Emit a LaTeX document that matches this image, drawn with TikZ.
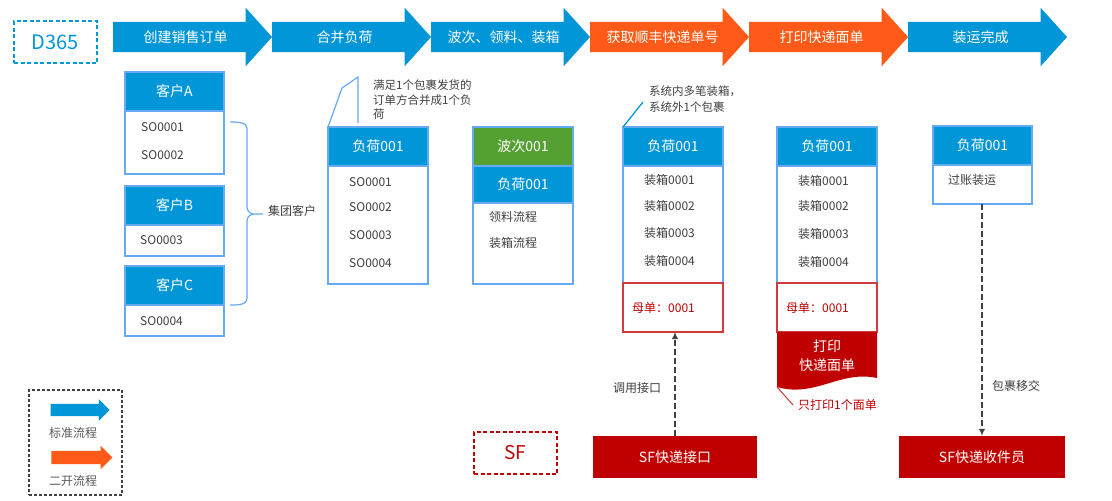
\documentclass[tikz,border=0pt]{standalone}
\usepackage{fontspec}
\setmainfont{Noto Sans CJK SC}
\usepackage{xcolor}
\usetikzlibrary{arrows.meta,positioning,shapes.arrows}
\definecolor{flowblue}{HTML}{0096D8}
\definecolor{boxline}{HTML}{66AAF5}
\definecolor{wavegreen}{HTML}{55A032}
\definecolor{devorange}{HTML}{FF5A17}
\definecolor{sfred}{HTML}{C00000}
\definecolor{redline}{HTML}{D0393E}
\definecolor{itemgray}{HTML}{404040}
\definecolor{leggray}{HTML}{595959}

\begin{document}
\begin{tikzpicture}[
    x=1pt,y=-1pt,
    flow/.style={single arrow, single arrow head extend=14pt, single arrow tip angle=96,
                 minimum height=159pt, text height=12pt, text depth=2pt, inner ysep=8pt,
                 inner xsep=0pt, outer sep=0pt, text=white, anchor=tail,
                 font=\fontsize{14}{16}\selectfont},
    legarrow/.style={single arrow, single arrow head extend=4.5pt, single arrow tip angle=90,
                     text height=0pt, text depth=0pt, inner ysep=6pt, inner xsep=0pt},
    hdr/.style={draw=boxline, line width=1.2pt, fill=flowblue, text=white, anchor=north west,
                minimum width=100pt, minimum height=39pt, inner sep=0pt, outer sep=0pt,
                font=\fontsize{14}{16}\selectfont},
    bodybox/.style={draw=boxline, line width=1.2pt, fill=white, minimum width=100pt,
                    inner sep=0pt, outer sep=0pt},
    redbox/.style={draw=redline, line width=1.2pt, fill=white, anchor=north west,
                   minimum width=100pt, minimum height=49pt, inner sep=0pt, outer sep=0pt},
    item/.style={anchor=west, inner sep=0pt, text=itemgray, font=\fontsize{12}{14}\selectfont},
    note/.style={anchor=north west, inner sep=0pt, align=left, text=itemgray,
                 font=\fontsize{11.5}{14.5}\selectfont},
    sfbox/.style={fill=sfred, text=white, minimum height=42pt, inner sep=0pt,
                  font=\fontsize{14}{16}\selectfont},
    tag/.style={dashed, dash pattern=on 4pt off 2.5pt, line width=1.2pt, minimum width=83pt,
                minimum height=42pt, inner sep=0pt},
    callline/.style={draw=boxline, line width=1.2pt},
    dasharrow/.style={-{Latex[length=7pt,width=6.5pt]}, dashed, dash pattern=on 6pt off 3pt,
                      line width=2pt, draw=itemgray}
]
\useasboundingbox[fill=white] (0,0) rectangle (1112,501);

% Process arrows
\node[tag, draw=flowblue, text=flowblue, font=\fontsize{20}{22}\selectfont] (d365) at (55.5,42) {D365};
\node[flow, fill=flowblue] (s1) at (113,37) {创建销售订单};
\node[flow, fill=flowblue] (s2) at (s1.tip) {合并负荷};
\node[flow, fill=flowblue] (s3) at (s2.tip) {波次、领料、装箱};
\node[flow, fill=devorange] (s4) at (s3.tip) {获取顺丰快递单号};
\node[flow, fill=devorange] (s5) at (s4.tip) {打印快递面单};
\node[flow, fill=flowblue] (s6) at (s5.tip) {装运完成};

% Customers
\node[hdr, minimum width=99pt] (ka) at (125,72) {客户A};
\node[bodybox, minimum width=99pt, minimum height=63pt, below=0pt of ka] (kab) {};
\node[item] (ka1) at (141,127) {SO0001};
\node[item] (ka2) at (141,155) {SO0002};
\node[hdr, minimum width=99pt] (kb) at (125,186) {客户B};
\node[bodybox, minimum width=99pt, minimum height=31pt, below=0pt of kb] (kbb) {};
\node[item] (kb1) at (140,240) {SO0003};
\node[hdr, minimum width=99pt] (kc) at (125,266) {客户C};
\node[bodybox, minimum width=99pt, minimum height=31pt, below=0pt of kc] (kcb) {};
\node[item] (kc1) at (140,321) {SO0004};
\draw[callline] (230,122) to[out=0,in=90] (247,129) -- (247,207) to[out=-90,in=180] (254,214)
    -- (263,214) (254,214) to[out=180,in=90] (247,221) -- (247,298) to[out=-90,in=0] (230,305);
\node[item] (group) at (268,211) {集团客户};

% Merged load
\node[hdr] (h2) at (328,127) {负荷001};
\node[bodybox, minimum height=118pt, below=0pt of h2] (b2) {};
\foreach \t/\y [count=\i] in {SO0001/182,SO0002/207,SO0003/235,SO0004/263}
  \node[item] (o\i) at (349,\y) {\t};
\draw[callline] (h2.north west) -- (342,88) -- (358,77) -- (358,123);
\node[note] (n2) at (373,80) {满足1个包裹发货的\\订单方合并成1个负\\荷};

% Wave
\node[hdr, fill=wavegreen] (h3) at (473,127) {波次001};
\node[hdr, minimum height=37pt, below=0pt of h3, anchor=north] (h3b) {负荷001};
\node[bodybox, minimum height=81pt, below=0pt of h3b] (b3) {};
\node[item] (w1) at (489,217) {领料流程};
\node[item] (w2) at (489,243) {装箱流程};

% Tracking number
\node[hdr] (h4) at (623,127) {负荷001};
\node[bodybox, minimum height=117pt, below=0pt of h4] (b4) {};
\foreach \t/\y [count=\i] in {0001/180,0002/206,0003/233,0004/261}
  \node[item] (p\i) at (644,\y) {装箱\t};
\node[redbox] (m4) at (b4.south west) {};
\node[item, text=sfred] (m4t) at (632,308) {母单：0001};
\draw[callline, draw=flowblue] (h4.north west) -- (643,102);
\node[note, font=\fontsize{11.5}{16}\selectfont] (n4) at (649,86) {系统内多笔装箱，\\系统外1个包裹};

% Print label
\node[hdr] (h5) at (777,127) {负荷001};
\node[bodybox, minimum height=117pt, below=0pt of h5] (b5) {};
\foreach \t/\y [count=\i] in {0001/181,0002/206,0003/234,0004/262}
  \node[item] (q\i) at (798,\y) {装箱\t};
\node[redbox] (m5) at (b5.south west) {};
\node[item, text=sfred] (m5t) at (786,308) {母单：0001};
\coordinate (docbl) at (777,387);
\fill[sfred] (m5.south west) -- (m5.south east) -- (877,378)
    .. controls (840,370) and (815,398) .. (docbl) -- cycle;
\node[align=center, text=white, inner sep=0pt, font=\fontsize{14}{19}\selectfont] (doc) at (827,356) {打印\\快递面单};
\draw[draw=redline, line width=1pt] (docbl) -- (793,405);
\node[item, text=sfred] (n5) at (798,405) {只打印1个面单};

% Shipment
\node[hdr, minimum width=99pt] (h6) at (933,126) {负荷001};
\node[bodybox, minimum width=99pt, minimum height=39pt, below=0pt of h6] (b6) {};
\node[item] (r1) at (948,180) {过账装运};

% SF side
\node[tag, draw=sfred, text=sfred, font=\fontsize{19}{21}\selectfont] (sf) at (515.5,453) {SF};
\node[sfbox, minimum width=164pt] (api) at (675,457) {SF快递接口};
\node[sfbox, minimum width=166pt] (courier) at (982,457) {SF快递收件员};
\draw[dasharrow] (api.north) -- (api.north |- m4.south);
\node[item, anchor=center] (call) at (637,388) {调用接口};
\draw[dasharrow] (courier.north |- b6.south) -- (courier.north);
\node[item, anchor=center] (hand) at (1016,386) {包裹移交};

% Legend
\node[draw=itemgray, dashed, dash pattern=on 3pt off 2pt, line width=1.2pt,
      minimum width=93pt, minimum height=105pt] (legend) at (75.5,442.5) {};
\node[legarrow, fill=flowblue, minimum height=59pt] (lg1) at (77,410) {};
\node[item, anchor=center, text=leggray] (lt1) at (73,433) {标准流程};
\node[legarrow, fill=devorange, minimum height=61pt, inner ysep=6.5pt, single arrow head extend=5pt] (lg2) at (78.5,457.5) {};
\node[item, anchor=center, text=leggray] (lt2) at (73,481) {二开流程};
\end{tikzpicture}
\end{document}
